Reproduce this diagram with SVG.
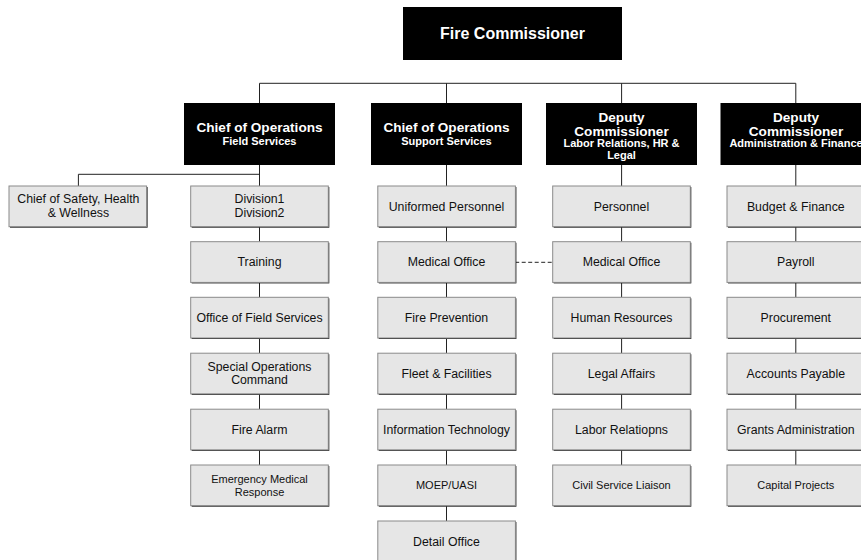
<svg xmlns="http://www.w3.org/2000/svg" width="861" height="560" viewBox="0 0 861 560">
<style>
.hd{fill:#000}
.ht{fill:#fff;font-family:"Liberation Sans",Arial,sans-serif;font-weight:bold;text-anchor:middle}
.big{font-size:16px}
.mid{font-size:13.6px}
.sub{font-size:11px}
.sh{fill:#1a1a1a}
.bx{fill:#e6e6e6;stroke:#8a8a8a;stroke-width:1}
.t{fill:#111;font-family:"Liberation Sans",Arial,sans-serif;font-size:12.3px;text-anchor:middle}
.s{font-size:11px}
.ln{stroke:#222;stroke-width:1;fill:none}
.dash{stroke:#222;stroke-width:1;stroke-dasharray:4 2.5;fill:none}
</style>
<rect width="861" height="560" fill="#fff"/>
<g id="connectors">
<path class="ln" d="M259.5 83.3H795.8M259.5 83.3V103M446.5 83.3V103M621.6 83.3V103M795.8 83.3V103"/>
<path class="ln" d="M259.5 165V186M259.5 174.3H78.4V186M259.5 227V241.7M259.5 282.4V297.3M259.5 338V353.2M259.5 393.9V409.2M259.5 449.9V465"/>
<path class="ln" d="M446.5 165V186M446.5 227V241.7M446.5 282.4V297.3M446.5 338V353.2M446.5 393.9V409.2M446.5 449.9V465M446.5 505.7V521"/>
<path class="ln" d="M621.6 165V186M621.6 227V241.7M621.6 282.4V297.3M621.6 338V353.2M621.6 393.9V409.2M621.6 449.9V465"/>
<path class="ln" d="M795.8 165V186M795.8 227V241.7M795.8 282.4V297.3M795.8 338V353.2M795.8 393.9V409.2M795.8 449.9V465"/>
<path class="dash" d="M515.2 262.3H552.7"/>
</g>
<g id="fire-commissioner"><rect class="hd" x="403" y="7" width="219" height="53"/><text class="ht big" x="512.5" y="38.5">Fire Commissioner</text></g>
<g id="chief-ops-field"><rect class="hd" x="184" y="103" width="151" height="62"/><text class="ht mid" x="259.5" y="131.5">Chief of Operations</text><text class="ht sub" x="259.5" y="144.5">Field Services</text></g>
<g id="chief-ops-support"><rect class="hd" x="371" y="103" width="151" height="62"/><text class="ht mid" x="446.5" y="131.5">Chief of Operations</text><text class="ht sub" x="446.5" y="144.5">Support Services</text></g>
<g id="deputy-labor"><rect class="hd" x="546" y="103" width="151" height="62"/><text class="ht mid" x="621.5" y="121.5">Deputy</text><text class="ht mid" x="621.5" y="135.5">Commissioner</text><text class="ht sub" x="621.5" y="147">Labor Relations, HR &amp;</text><text class="ht sub" x="621.5" y="159">Legal</text></g>
<g id="deputy-admin"><rect class="hd" x="720.5" y="103" width="151" height="62"/><text class="ht mid" x="796" y="121.5">Deputy</text><text class="ht mid" x="796" y="135.5">Commissioner</text><text class="ht sub" x="796" y="147">Administration &amp; Finance</text></g>

<g id="chief-safety"><rect class="sh" x="10" y="187" width="137.6" height="40.7"/><rect class="bx" x="9" y="186" width="137.6" height="40.7"/><text class="t" x="78.4" y="202.5">Chief of Safety, Health</text><text class="t" x="78.4" y="216.5">&amp; Wellness</text></g>

<g id="division"><rect class="sh" x="191.7" y="187" width="137.6" height="40.7"/><rect class="bx" x="190.7" y="186" width="137.6" height="40.7"/><text class="t" x="259.5" y="202.5">Division1</text><text class="t" x="259.5" y="216.5">Division2</text></g>
<g id="training"><rect class="sh" x="191.7" y="242.7" width="137.6" height="40.7"/><rect class="bx" x="190.7" y="241.7" width="137.6" height="40.7"/><text class="t" x="259.5" y="266.4">Training</text></g>
<g id="office-field-services"><rect class="sh" x="191.7" y="298.3" width="137.6" height="40.7"/><rect class="bx" x="190.7" y="297.3" width="137.6" height="40.7"/><text class="t" x="259.5" y="322">Office of Field Services</text></g>
<g id="special-ops"><rect class="sh" x="191.7" y="354.2" width="137.6" height="40.7"/><rect class="bx" x="190.7" y="353.2" width="137.6" height="40.7"/><text class="t" x="259.5" y="370.5">Special Operations</text><text class="t" x="259.5" y="384">Command</text></g>
<g id="fire-alarm"><rect class="sh" x="191.7" y="410.2" width="137.6" height="40.7"/><rect class="bx" x="190.7" y="409.2" width="137.6" height="40.7"/><text class="t" x="259.5" y="433.9">Fire Alarm</text></g>
<g id="ems"><rect class="sh" x="191.7" y="466" width="137.6" height="40.7"/><rect class="bx" x="190.7" y="465" width="137.6" height="40.7"/><text class="t s" x="259.5" y="483">Emergency Medical</text><text class="t s" x="259.5" y="495.5">Response</text></g>

<g id="uniformed-personnel"><rect class="sh" x="378.8" y="187" width="137.6" height="40.7"/><rect class="bx" x="377.8" y="186" width="137.6" height="40.7"/><text class="t" x="446.5" y="210.7">Uniformed Personnel</text></g>
<g id="medical-office-1"><rect class="sh" x="378.8" y="242.7" width="137.6" height="40.7"/><rect class="bx" x="377.8" y="241.7" width="137.6" height="40.7"/><text class="t" x="446.5" y="266.4">Medical Office</text></g>
<g id="fire-prevention"><rect class="sh" x="378.8" y="298.3" width="137.6" height="40.7"/><rect class="bx" x="377.8" y="297.3" width="137.6" height="40.7"/><text class="t" x="446.5" y="322">Fire Prevention</text></g>
<g id="fleet"><rect class="sh" x="378.8" y="354.2" width="137.6" height="40.7"/><rect class="bx" x="377.8" y="353.2" width="137.6" height="40.7"/><text class="t" x="446.5" y="377.9">Fleet &amp; Facilities</text></g>
<g id="it"><rect class="sh" x="378.8" y="410.2" width="137.6" height="40.7"/><rect class="bx" x="377.8" y="409.2" width="137.6" height="40.7"/><text class="t" x="446.5" y="433.9">Information Technology</text></g>
<g id="moep"><rect class="sh" x="378.8" y="466" width="137.6" height="40.7"/><rect class="bx" x="377.8" y="465" width="137.6" height="40.7"/><text class="t s" x="446.5" y="489.3">MOEP/UASI</text></g>
<g id="detail-office"><rect class="sh" x="378.8" y="522" width="137.6" height="40.7"/><rect class="bx" x="377.8" y="521" width="137.6" height="40.7"/><text class="t" x="446.5" y="545.7">Detail Office</text></g>

<g id="personnel"><rect class="sh" x="553.7" y="187" width="137.6" height="40.7"/><rect class="bx" x="552.7" y="186" width="137.6" height="40.7"/><text class="t" x="621.5" y="210.7">Personnel</text></g>
<g id="medical-office-2"><rect class="sh" x="553.7" y="242.7" width="137.6" height="40.7"/><rect class="bx" x="552.7" y="241.7" width="137.6" height="40.7"/><text class="t" x="621.5" y="266.4">Medical Office</text></g>
<g id="human-resources"><rect class="sh" x="553.7" y="298.3" width="137.6" height="40.7"/><rect class="bx" x="552.7" y="297.3" width="137.6" height="40.7"/><text class="t" x="621.5" y="322">Human Resources</text></g>
<g id="legal-affairs"><rect class="sh" x="553.7" y="354.2" width="137.6" height="40.7"/><rect class="bx" x="552.7" y="353.2" width="137.6" height="40.7"/><text class="t" x="621.5" y="377.9">Legal Affairs</text></g>
<g id="labor-relations"><rect class="sh" x="553.7" y="410.2" width="137.6" height="40.7"/><rect class="bx" x="552.7" y="409.2" width="137.6" height="40.7"/><text class="t" x="621.5" y="433.9">Labor Relatiopns</text></g>
<g id="civil-service"><rect class="sh" x="553.7" y="466" width="137.6" height="40.7"/><rect class="bx" x="552.7" y="465" width="137.6" height="40.7"/><text class="t s" x="621.5" y="489.3">Civil Service Liaison</text></g>

<g id="budget-finance"><rect class="sh" x="728" y="187" width="137.6" height="40.7"/><rect class="bx" x="727" y="186" width="137.6" height="40.7"/><text class="t" x="795.8" y="210.7">Budget &amp; Finance</text></g>
<g id="payroll"><rect class="sh" x="728" y="242.7" width="137.6" height="40.7"/><rect class="bx" x="727" y="241.7" width="137.6" height="40.7"/><text class="t" x="795.8" y="266.4">Payroll</text></g>
<g id="procurement"><rect class="sh" x="728" y="298.3" width="137.6" height="40.7"/><rect class="bx" x="727" y="297.3" width="137.6" height="40.7"/><text class="t" x="795.8" y="322">Procurement</text></g>
<g id="accounts-payable"><rect class="sh" x="728" y="354.2" width="137.6" height="40.7"/><rect class="bx" x="727" y="353.2" width="137.6" height="40.7"/><text class="t" x="795.8" y="377.9">Accounts Payable</text></g>
<g id="grants"><rect class="sh" x="728" y="410.2" width="137.6" height="40.7"/><rect class="bx" x="727" y="409.2" width="137.6" height="40.7"/><text class="t" x="795.8" y="433.9">Grants Administration</text></g>
<g id="capital-projects"><rect class="sh" x="728" y="466" width="137.6" height="40.7"/><rect class="bx" x="727" y="465" width="137.6" height="40.7"/><text class="t s" x="795.8" y="489.3">Capital Projects</text></g>
</svg>
